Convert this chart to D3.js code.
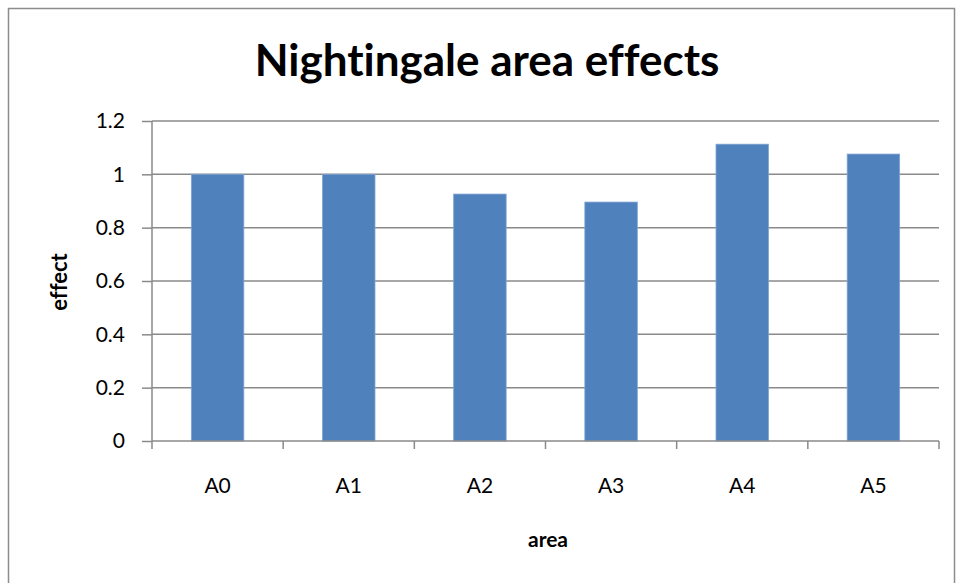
<!DOCTYPE html>
<html>
<head>
<meta charset="utf-8">
<script src="https://cdn.jsdelivr.net/npm/d3@7"></script>
<style>
  body { margin: 0; background: #fff; }
  svg text { font-variant-ligatures: none; }
</style>
</head>
<body>
<div id="chart"></div>
<script>
const areas = ["A0", "A1", "A2", "A3", "A4", "A5"];
const effects = [1.0, 1.0, 0.926, 0.896, 1.113, 1.076];
const yTicks = [0, 0.2, 0.4, 0.6, 0.8, 1, 1.2];

const width = 957;
const height = 583;
const font = "Lato, 'Open Sans', sans-serif";

const svg = d3.select("#chart")
    .append("svg")
    .attr("width", width)
    .attr("height", height)
    .style("font-family", font);

// outer frame
svg.append("rect")
    .attr("x", 8.5)
    .attr("y", 8.5)
    .attr("width", 946)
    .attr("height", 590)
    .attr("fill", "none")
    .attr("stroke", "#8c8c8c")
    .attr("stroke-width", 1.5);

const plot = { left: 152, right: 939, top: 121, bottom: 441 };

const x = d3.scaleBand()
    .domain(areas)
    .range([plot.left, plot.right]);

const y = d3.scaleLinear()
    .domain([0, 1.2])
    .range([plot.bottom, plot.top]);

// gridlines
svg.append("g")
    .selectAll("line")
    .data(yTicks.filter(d => d > 0))
    .enter()
    .append("line")
    .attr("x1", plot.left)
    .attr("x2", plot.right)
    .attr("y1", d => y(d))
    .attr("y2", d => y(d))
    .attr("stroke", "#8a8a8a")
    .attr("stroke-width", 1.5);

// bars
const barW = x.bandwidth() * 0.4;
svg.append("g")
    .selectAll("rect")
    .data(areas)
    .enter()
    .append("rect")
    .attr("x", (d, i) => x(d) + (x.bandwidth() - barW) / 2)
    .attr("y", (d, i) => y(effects[i]))
    .attr("width", barW)
    .attr("height", (d, i) => y(0) - y(effects[i]))
    .attr("fill", "#4f81bd")
    .attr("stroke", "#7fa3d3")
    .attr("stroke-width", 0.8);

// y axis
const yAxis = svg.append("g")
    .attr("transform", `translate(${plot.left},0)`)
    .call(d3.axisLeft(y).tickValues(yTicks).tickSize(10).tickPadding(17)
        .tickFormat(d => String(+d.toFixed(1))));
yAxis.select(".domain").attr("stroke", "#8a8a8a").attr("stroke-width", 1.5).attr("d", `M0,${plot.top}V${plot.bottom}`);
yAxis.selectAll(".tick line").attr("stroke", "#8a8a8a").attr("stroke-width", 1.5);
yAxis.selectAll(".tick text")
    .style("font-family", font)
    .style("font-size", "21px")
    .attr("fill", "#000");

// x axis
const xAxis = svg.append("g")
    .attr("transform", `translate(0,${plot.bottom})`);
xAxis.append("line")
    .attr("x1", plot.left)
    .attr("x2", plot.right)
    .attr("stroke", "#8a8a8a")
    .attr("stroke-width", 1.5);
const bounds = areas.map(d => x(d)).concat([plot.right]);
xAxis.selectAll("line.tick")
    .data(bounds)
    .enter()
    .append("line")
    .attr("class", "tick")
    .attr("x1", d => d)
    .attr("x2", d => d)
    .attr("y1", 0)
    .attr("y2", 8)
    .attr("stroke", "#8a8a8a")
    .attr("stroke-width", 1.5);
xAxis.selectAll("text")
    .data(areas)
    .enter()
    .append("text")
    .attr("x", d => x(d) + x.bandwidth() / 2)
    .attr("y", 52)
    .attr("text-anchor", "middle")
    .style("font-size", "21px")
    .text(d => d);

// title
svg.append("text")
    .attr("x", 487)
    .attr("y", 76)
    .attr("text-anchor", "middle")
    .style("font-size", "44px")
    .style("font-weight", "bold")
    .text("Nightingale area effects");

// axis titles
svg.append("text")
    .attr("x", 548)
    .attr("y", 547)
    .attr("text-anchor", "middle")
    .style("font-size", "21px")
    .style("font-weight", "bold")
    .text("area");

svg.append("text")
    .attr("transform", "translate(67,282) rotate(-90)")
    .attr("text-anchor", "middle")
    .style("font-size", "22px")
    .style("font-weight", "bold")
    .text("effect");
</script>
</body>
</html>
